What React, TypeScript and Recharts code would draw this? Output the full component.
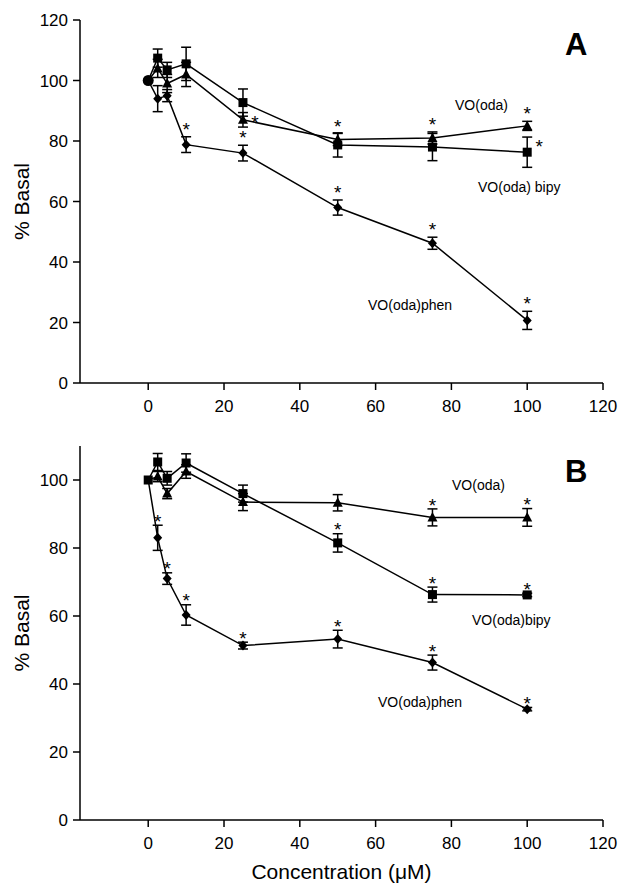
import React from "react";
import {
  ComposedChart,
  Line,
  Scatter,
  XAxis,
  YAxis,
  ErrorBar,
} from "recharts";

const conc = [0, 2.5, 5, 10, 25, 50, 75, 100];
const xTicks = [0, 20, 40, 60, 80, 100, 120];

// panel A
const aOda = [100, 104, 99, 102, 87, 80.5, 81, 85];
const aOdaErr = [0, 3, 3, 4, 2.4, 2, 2, 1.5];
const aOdaStar = ["", "", "", "", "r", "t", "t", "t"];
const aBipy = [100, 107.4, 103.5, 105.5, 92.7, 78.7, 78, 76.3];
const aBipyErr = [0, 3, 2.5, 5.5, 4.5, 4, 4.5, 5];
const aBipyStar = ["", "", "", "", "", "", "", "r"];
const aPhen = [100, 94, 95, 78.8, 76, 58, 46.2, 20.7];
const aPhenErr = [0, 4.3, 2, 2.6, 2.6, 2.5, 2, 3];
const aPhenStar = ["", "", "", "t", "t", "t", "t", "t"];
const aYTicks = [0, 20, 40, 60, 80, 100, 120];

// panel B
const bOda = [100, 101, 96, 102.5, 93.5, 93.3, 89, 89];
const bOdaErr = [0, 1.5, 1.5, 2, 2.5, 2.4, 2.5, 2.6];
const bOdaStar = ["", "", "", "", "", "", "t", "t"];
const bBipy = [100, 105.3, 100.5, 105, 96, 81.5, 66.3, 66.2];
const bBipyErr = [0, 2.5, 2, 2.7, 2.5, 2.7, 2.2, 0.5];
const bBipyStar = ["", "", "", "", "", "t", "t", "t"];
const bPhen = [100, 83, 71, 60.3, 51.3, 53.2, 46.3, 32.6];
const bPhenErr = [0, 3.7, 1.7, 3, 1, 2.6, 2.2, 0.5];
const bPhenStar = ["", "t", "t", "t", "t", "t", "t", "t"];
const bYTicks = [0, 20, 40, 60, 80, 100];

const FONT = "'Liberation Sans', Arial, sans-serif";

function Marker({ kind, cx, cy }: { kind: string; cx: number; cy: number }) {
  if (kind === "square")
    return <rect x={cx - 4.5} y={cy - 4.5} width={9} height={9} fill="#000" />;
  if (kind === "triangle")
    return (
      <polygon
        points={`${cx},${cy - 5.5} ${cx + 5},${cy + 4} ${cx - 5},${cy + 4}`}
        fill="#000"
      />
    );
  if (kind === "diamond")
    return (
      <polygon
        points={`${cx},${cy - 5} ${cx + 4.5},${cy} ${cx},${cy + 5} ${cx - 4.5},${cy}`}
        fill="#000"
      />
    );
  return <circle cx={cx} cy={cy} r={5.5} fill="#000" />;
}

function buildRows(oda: number[], odaErr: number[], bipy: number[], bipyErr: number[], phen: number[], phenErr: number[]) {
  return conc.map((x, i) => ({
    x,
    oda: oda[i],
    odaErr: odaErr[i],
    bipy: bipy[i],
    bipyErr: bipyErr[i],
    phen: phen[i],
    phenErr: phenErr[i],
  }));
}

function buildStars(vals: number[], errs: number[], flags: string[]) {
  const out: { x: number; y: number; side: string }[] = [];
  conc.forEach((x, i) => {
    if (flags[i]) out.push({ x, y: vals[i] + errs[i], side: flags[i] });
  });
  return out;
}

// asterisk glyph centre sits ~0.585em above the baseline
const STAR_SIZE = 19;
const STAR_SHIFT = STAR_SIZE * 0.585;

function starShape(gap: number) {
  return (p: any) => {
    const { cx, cy, payload } = p;
    const right = payload.side === "r";
    return (
      <text
        x={right ? cx + 12 : cx}
        y={right ? cy + 5 + STAR_SHIFT : cy - gap + STAR_SHIFT}
        textAnchor="middle"
        fontSize={STAR_SIZE}
        fontFamily={FONT}
        fill="#000"
      >
        *
      </text>
    );
  };
}

function dotFor(kind: string) {
  return (p: any) => {
    if (p.index === 0 || p.cx == null) return <g key={`d-${kind}-${p.index}`} />;
    return (
      <g key={`d-${kind}-${p.index}`}>
        <Marker kind={kind} cx={p.cx} cy={p.cy} />
      </g>
    );
  };
}

interface PanelProps {
  rows: ReturnType<typeof buildRows>;
  stars: { x: number; y: number; side: string }[];
  control: { x: number; y: number }[];
  controlKind: string;
  yTicks: number[];
  yMax: number;
  height: number;
  marginTop: number;
  marginBottom: number;
  xAxisHeight: number;
  starGap: number;
  xTitle?: string;
}

function Panel(props: PanelProps) {
  const axisStyle = { stroke: "#000", strokeWidth: 1.5 };
  const tickStyle = { fontSize: 17, fill: "#000", fontFamily: FONT };
  return (
    <ComposedChart
      width={622}
      height={props.height}
      data={props.rows}
      margin={{ top: props.marginTop, right: 19, bottom: props.marginBottom, left: 10 }}
    >
      <XAxis
        dataKey="x"
        type="number"
        domain={[-18, 120]}
        ticks={xTicks}
        allowDataOverflow
        axisLine={axisStyle}
        tickLine={axisStyle}
        tickSize={7}
        tickMargin={10}
        tick={tickStyle}
        height={props.xAxisHeight}
        label={
          props.xTitle
            ? {
                value: props.xTitle,
                position: "insideBottom",
                offset: 1,
                style: { fontSize: 21, fill: "#000", fontFamily: FONT },
              }
            : undefined
        }
      />
      <XAxis
        xAxisId="top"
        orientation="top"
        type="number"
        domain={[-18, 120]}
        allowDataOverflow
        tick={false}
        tickLine={false}
        axisLine={axisStyle}
        height={0}
      />
      <YAxis
        type="number"
        domain={[0, props.yMax]}
        ticks={props.yTicks}
        allowDataOverflow
        axisLine={axisStyle}
        tickLine={axisStyle}
        tickSize={7}
        tickMargin={5}
        tick={tickStyle}
        width={70}
        label={{
          value: "% Basal",
          angle: -90,
          position: "insideLeft",
          offset: 12,
          style: { fontSize: 21, fill: "#000", fontFamily: FONT, textAnchor: "middle" },
        }}
      />
      <YAxis
        yAxisId="right"
        orientation="right"
        type="number"
        domain={[0, props.yMax]}
        tick={false}
        tickLine={false}
        axisLine={axisStyle}
        width={0}
      />
      <Line dataKey="oda" stroke="#000" strokeWidth={1.5} dot={dotFor("triangle")} activeDot={false} isAnimationActive={false}>
        <ErrorBar dataKey="odaErr" width={5} stroke="#000" strokeWidth={1.5} direction="y" />
      </Line>
      <Line dataKey="bipy" stroke="#000" strokeWidth={1.5} dot={dotFor("square")} activeDot={false} isAnimationActive={false}>
        <ErrorBar dataKey="bipyErr" width={5} stroke="#000" strokeWidth={1.5} direction="y" />
      </Line>
      <Line dataKey="phen" stroke="#000" strokeWidth={1.5} dot={dotFor("diamond")} activeDot={false} isAnimationActive={false}>
        <ErrorBar dataKey="phenErr" width={5} stroke="#000" strokeWidth={1.5} direction="y" />
      </Line>
      <Scatter
        data={props.control}
        dataKey="y"
        isAnimationActive={false}
        shape={(p: any) => <Marker kind={props.controlKind} cx={p.cx} cy={p.cy} />}
      />
      <Scatter data={props.stars} dataKey="y" isAnimationActive={false} shape={starShape(props.starGap)} />
    </ComposedChart>
  );
}

const labelBase: React.CSSProperties = {
  position: "absolute",
  fontSize: 14,
  lineHeight: "14px",
  fontFamily: FONT,
  color: "#000",
  whiteSpace: "nowrap",
};
const letterBase: React.CSSProperties = {
  position: "absolute",
  fontSize: 31,
  lineHeight: "31px",
  fontWeight: "bold",
  fontFamily: FONT,
  color: "#000",
};

export default function App() {
  const rowsA = buildRows(aOda, aOdaErr, aBipy, aBipyErr, aPhen, aPhenErr);
  const starsA = [
    ...buildStars(aOda, aOdaErr, aOdaStar),
    ...buildStars(aBipy, aBipyErr, aBipyStar),
    ...buildStars(aPhen, aPhenErr, aPhenStar),
  ];
  const rowsB = buildRows(bOda, bOdaErr, bBipy, bBipyErr, bPhen, bPhenErr);
  const starsB = [
    ...buildStars(bOda, bOdaErr, bOdaStar),
    ...buildStars(bBipy, bBipyErr, bBipyStar),
    ...buildStars(bPhen, bPhenErr, bPhenStar),
  ];
  return (
    <div style={{ position: "absolute", left: 0, top: 0, width: 622, height: 887, background: "#fff", fontFamily: FONT }}>
      <div style={{ position: "absolute", left: 0, top: 0 }}>
        <Panel
          rows={rowsA}
          stars={starsA}
          control={[{ x: 0, y: 100 }]}
          controlKind="circle"
          yTicks={aYTicks}
          yMax={120}
          height={420}
          marginTop={20}
          marginBottom={7}
          xAxisHeight={30}
          starGap={12}
        />
      </div>
      <div style={{ position: "absolute", left: 0, top: 420 }}>
        <Panel
          rows={rowsB}
          stars={starsB}
          control={[{ x: 0, y: 100 }]}
          controlKind="square"
          yTicks={bYTicks}
          yMax={110}
          height={467}
          marginTop={26}
          marginBottom={7}
          xAxisHeight={60}
          starGap={8.5}
          xTitle="Concentration (μM)"
        />
      </div>
      <div style={{ ...labelBase, left: 455, top: 98 }}>VO(oda)</div>
      <div style={{ ...labelBase, left: 478, top: 180 }}>VO(oda) bipy</div>
      <div style={{ ...labelBase, left: 368, top: 298 }}>VO(oda)phen</div>
      <div style={{ ...letterBase, left: 565, top: 29 }}>A</div>
      <div style={{ ...labelBase, left: 452, top: 478 }}>VO(oda)</div>
      <div style={{ ...labelBase, left: 472, top: 613 }}>VO(oda)bipy</div>
      <div style={{ ...labelBase, left: 378, top: 695 }}>VO(oda)phen</div>
      <div style={{ ...letterBase, left: 565, top: 456 }}>B</div>
    </div>
  );
}
